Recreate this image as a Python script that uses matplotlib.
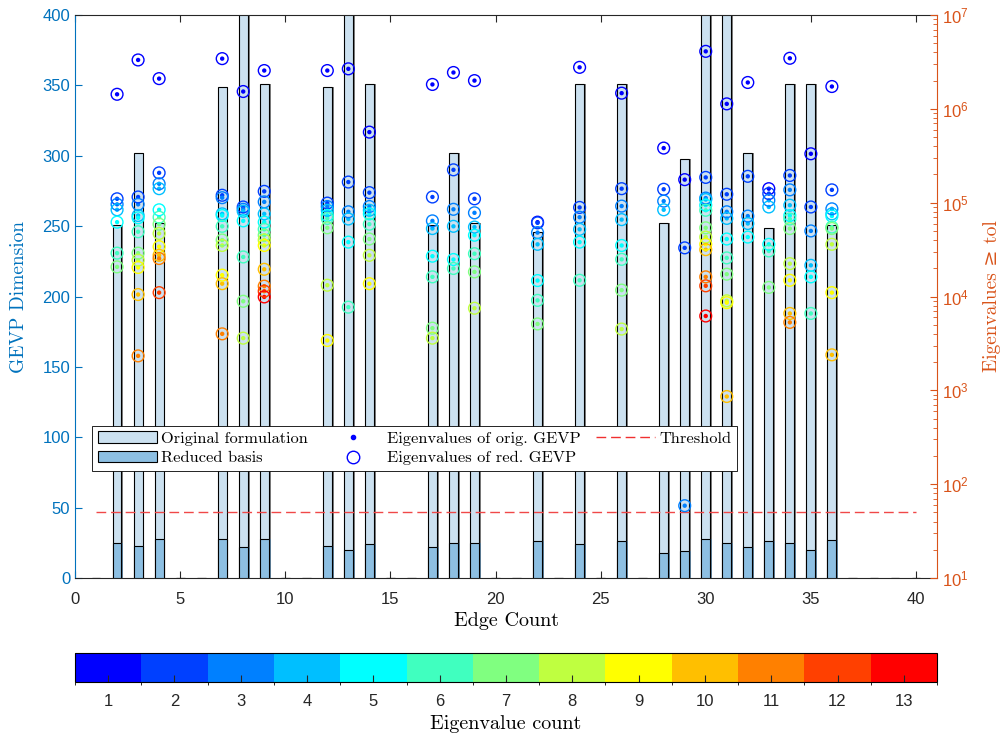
import numpy as np
import matplotlib.pyplot as plt
from matplotlib.colors import ListedColormap, BoundaryNorm
from matplotlib.cm import ScalarMappable
from matplotlib.patches import Patch
from matplotlib.lines import Line2D

plt.rcParams['font.family'] = 'Liberation Sans'
tex = ['cmr10', 'DejaVu Serif']

# GEVP sizes per edge count (0 = no case)
edge_count = np.arange(1, 41)
orig_dim = [0, 251, 302, 252, 0, 0, 349, 452, 351, 0,
            0, 349, 452, 351, 0, 0, 251, 302, 252, 0,
            0, 246, 0, 351, 0, 351, 0, 252, 298, 500,
            500, 302, 249, 351, 351, 251, 0, 0, 0, 0]
red_dim = [0, 25, 23, 28, 0, 0, 28, 22, 28, 0,
           0, 23, 20, 24, 0, 0, 22, 25, 25, 0,
           0, 26, 0, 24, 0, 26, 0, 18, 19, 28,
           25, 22, 26, 25, 20, 27, 0, 0, 0, 0]

# eigenvalues >= tol, largest first
eig_edges = [2, 3, 4, 7, 8, 9, 12, 13, 14, 17, 18, 19,
             22, 24, 26, 28, 29, 30, 31, 32, 33, 34, 35, 36]
eig_values = [
    [1.43e6, 1.10e5, 9.6e4, 8.4e4, 6.2e4, 2.9e4, 2.07e4],
    [3.32e6, 1.15e5, 9.6e4, 7.3e4, 6.9e4, 4.9e4, 2.9e4, 2.44e4, 2.04e4, 1.05e4, 2.33e3],
    [2.10e6, 2.08e5, 1.59e5, 1.41e5, 8.4e4, 7.0e4, 5.9e4, 4.7e4, 3.4e4, 2.75e4, 2.54e4, 1.10e4],
    [3.43e6, 1.20e5, 1.13e5, 7.6e4, 7.3e4, 5.6e4, 4.0e4, 3.5e4, 1.69e4, 1.37e4, 4.0e3],
    [1.53e6, 9.0e4, 8.5e4, 8.1e4, 6.4e4, 2.64e4, 8.9e3, 3.6e3],
    [2.56e6, 1.32e5, 1.02e5, 7.6e4, 6.2e4, 5.2e4, 4.5e4, 4.0e4, 3.5e4, 1.95e4, 1.29e4, 1.14e4, 9.9e3],
    [2.56e6, 9.9e4, 9.1e4, 8.3e4, 7.3e4, 6.8e4, 5.4e4, 1.32e4, 3.4e3],
    [2.67e6, 1.66e5, 8.0e4, 6.7e4, 3.8e4, 7.7e3],
    [5.65e5, 1.28e5, 9.1e4, 8.3e4, 7.6e4, 5.9e4, 4.1e4, 2.75e4, 1.37e4],
    [1.82e6, 1.15e5, 6.4e4, 5.3e4, 2.69e4, 1.62e4, 4.6e3, 3.6e3],
    [2.44e6, 2.24e5, 8.5e4, 5.6e4, 2.48e4, 1.99e4],
    [2.0e6, 1.10e5, 7.8e4, 5.5e4, 4.5e4, 2.86e4, 1.83e4, 7.5e3],
    [6.2e4, 6.1e4, 4.8e4, 3.6e4, 1.48e4, 9.1e3, 5.1e3],
    [2.77e6, 8.9e4, 7.0e4, 5.2e4, 3.8e4, 1.49e4],
    [1.47e6, 1.41e5, 9.2e4, 6.6e4, 3.5e4, 2.49e4, 1.17e4, 4.5e3],
    [3.82e5, 1.39e5, 1.04e5, 8.4e4],
    [1.76e5, 3.3e4, 59],
    [4.1e6, 1.86e5, 1.12e5, 1.08e5, 9.4e4, 8.3e4, 5.4e4, 4.3e4, 3.6e4, 3.16e4, 1.62e4, 1.30e4, 6.2e3],
    [1.13e6, 1.23e5, 8.0e4, 6.8e4, 4.1e4, 2.58e4, 1.73e4, 9.0e3, 8.6e3, 8.6e2],
    [1.91e6, 1.91e5, 7.2e4, 6.0e4, 4.3e4],
    [1.41e5, 1.25e5, 1.06e5, 9.0e4, 3.6e4, 3.06e4, 1.25e4],
    [3.46e6, 1.95e5, 1.37e5, 9.4e4, 7.3e4, 6.7e4, 5.3e4, 2.24e4, 1.49e4, 6.6e3, 5.3e3],
    [3.32e5, 9.0e4, 5.0e4, 2.15e4, 1.62e4, 6.6e3],
    [1.73e6, 1.37e5, 8.6e4, 7.6e4, 7.2e4, 5.5e4, 5.3e4, 3.6e4, 1.10e4, 2.39e3],
]
threshold = 50
threshold_span = [1, 40]

count_colors = ['#0000ff', '#0040ff', '#0080ff', '#00bfff', '#00ffff', '#40ffbf', '#80ff80',
                '#bfff40', '#ffff00', '#ffbf00', '#ff8000', '#ff4000', '#ff0000']
left_col = '#0072bd'
right_col = '#d95319'
orig_col = '#cce1f0'
red_col = '#8dbfe2'

cmap = ListedColormap(count_colors)
norm = BoundaryNorm(np.arange(0.5, 14.5, 1), cmap.N)

fig = plt.figure(figsize=(10.03, 7.40), dpi=100)
ax = fig.add_axes([0.0748, 0.2189, 0.8594, 0.7608])
cax = fig.add_axes([0.0748, 0.0784, 0.8594, 0.0392])

# bars with a grey shadow on the right, like the MATLAB render
w = 0.42
ax.bar(edge_count + 0.09, orig_dim, width=w, color='#808080', lw=0, zorder=1)
ax.bar(edge_count, orig_dim, width=w, color=orig_col, edgecolor='k', lw=0.8, zorder=2)
ax.bar(edge_count + 0.09, red_dim, width=w, color='#5f7f99', lw=0, zorder=3)
ax.bar(edge_count, red_dim, width=w, color=red_col, edgecolor='k', lw=0.8, zorder=4)

ax.set_xlim(0, 41)
ax.set_ylim(0, 400)
ax.set_yticks(np.arange(0, 401, 50))
ax.set_xticks(np.arange(0, 41, 5))
ax.set_xlabel('Edge Count', fontfamily=tex, fontsize=14.5, labelpad=4)
ax.set_ylabel('GEVP Dimension', fontfamily=tex, fontsize=14, color=left_col, labelpad=10)
ax.tick_params(axis='x', top=True, direction='in', length=5, labelsize=12, colors='#262626', pad=10)
ax.tick_params(axis='y', direction='in', length=5, labelsize=12, colors=left_col)
ax.spines['left'].set_color(left_col)
ax.spines['right'].set_visible(False)
ax.spines['top'].set_color('#262626')
ax.spines['bottom'].set_color('#262626')

ax2 = ax.twinx()
ax2.set_yscale('log')
ax2.set_ylim(10, 1e7)
for s in ['left', 'top', 'bottom']:
    ax2.spines[s].set_visible(False)
ax2.spines['right'].set_color(right_col)
ax2.tick_params(axis='y', which='both', direction='in', colors=right_col, labelsize=12)
ax2.tick_params(axis='y', which='major', length=5)
ax2.tick_params(axis='y', which='minor', length=3)
ax2.set_ylabel('Eigenvalues ≥ tol', fontfamily=tex, fontsize=14, color=right_col, labelpad=10)

xs, ys, ks = [], [], []
for e, vals in zip(eig_edges, eig_values):
    for k, v in enumerate(vals, 1):
        xs.append(e)
        ys.append(v)
        ks.append(k)
ks = np.array(ks)
ax2.scatter(xs, ys, s=10, c=ks, cmap=cmap, norm=norm, linewidths=0, zorder=3)
ax2.scatter(xs, ys, s=72, facecolors='none', edgecolors=cmap(norm(ks)), linewidths=1.0, zorder=4)

ax2.plot(threshold_span, [threshold, threshold], '--', color='#f04848', lw=1.0, dashes=(7, 3.5))

handles = [Patch(facecolor=orig_col, edgecolor='k', lw=0.8),
           Patch(facecolor=red_col, edgecolor='k', lw=0.8),
           Line2D([], [], ls='none', marker='o', color='#0000ff', ms=3),
           Line2D([], [], ls='none', marker='o', mfc='none', mec='#0000ff', ms=9, mew=1.0),
           Line2D([], [], ls='--', color='#f03030', lw=1.0, dashes=(7, 3.5))]
labels = ['Original formulation', 'Reduced basis', 'Eigenvalues of orig. GEVP',
          'Eigenvalues of red. GEVP', 'Threshold']
leg = ax2.legend(handles, labels, ncol=3, loc='upper left', bbox_to_anchor=(0.020, 0.2705),
                 borderaxespad=0, prop={'family': tex, 'size': 11.8}, handlelength=3.6,
                 handletextpad=0.25, columnspacing=0.95, borderpad=0.35, labelspacing=0.3,
                 fancybox=False, edgecolor='k', framealpha=1)
leg.get_frame().set_linewidth(0.6)

cb = fig.colorbar(ScalarMappable(norm=norm, cmap=cmap), cax=cax, orientation='horizontal',
                  ticks=np.arange(1, 14))
cb.ax.tick_params(direction='in', length=5, labelsize=12, colors='#262626', pad=9)
cb.set_label('Eigenvalue count', fontfamily=tex, fontsize=14.5, labelpad=4)
cb.outline.set_linewidth(0.8)

fig.savefig('out.png', dpi=100)
